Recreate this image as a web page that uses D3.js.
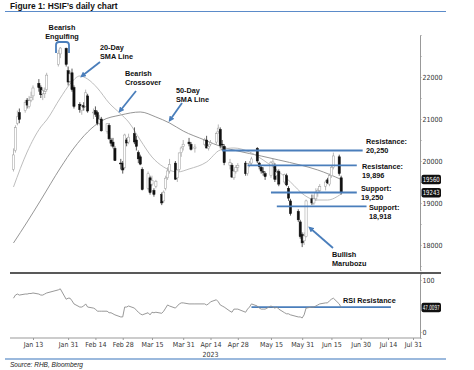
<!DOCTYPE html>
<html>
<head>
<meta charset="utf-8">
<script src="https://cdn.jsdelivr.net/npm/d3@7"></script>
<style>
  body { margin: 0; background: #fff; }
  svg { display: block; font-family: "Liberation Sans", Arial, sans-serif; }
  .ax text, text.ax { font-family: "Liberation Sans Narrow", "DejaVu Sans Condensed", sans-serif; font-size: 7px; fill: #333; }
  .note { font-weight: bold; font-size: 7.3px; fill: #111; }
</style>
</head>
<body>
<div id="chart"></div>
<script>
// ---- data ----
var dates = [
  "2023-01-03","2023-01-04","2023-01-05","2023-01-06","2023-01-09","2023-01-10","2023-01-11","2023-01-12","2023-01-13","2023-01-16","2023-01-17","2023-01-18","2023-01-19","2023-01-20","2023-01-26","2023-01-27","2023-01-30","2023-01-31",
  "2023-02-01","2023-02-02","2023-02-03","2023-02-06","2023-02-07","2023-02-08","2023-02-09","2023-02-10","2023-02-13","2023-02-14","2023-02-15","2023-02-16","2023-02-17","2023-02-20","2023-02-21","2023-02-22","2023-02-23","2023-02-24","2023-02-27","2023-02-28",
  "2023-03-01","2023-03-02","2023-03-03","2023-03-06","2023-03-07","2023-03-08","2023-03-09","2023-03-10","2023-03-13","2023-03-14","2023-03-15","2023-03-16","2023-03-17","2023-03-20","2023-03-21","2023-03-22","2023-03-23","2023-03-24","2023-03-27","2023-03-28","2023-03-29","2023-03-30","2023-03-31",
  "2023-04-03","2023-04-04","2023-04-06","2023-04-11","2023-04-12","2023-04-13","2023-04-14","2023-04-17","2023-04-18","2023-04-19","2023-04-20","2023-04-21","2023-04-24","2023-04-25","2023-04-26","2023-04-27","2023-04-28",
  "2023-05-02","2023-05-03","2023-05-04","2023-05-05","2023-05-08","2023-05-09","2023-05-10","2023-05-11","2023-05-12","2023-05-15","2023-05-16","2023-05-17","2023-05-18","2023-05-19","2023-05-22","2023-05-23","2023-05-24","2023-05-25","2023-05-29","2023-05-30","2023-05-31",
  "2023-06-01","2023-06-02","2023-06-05","2023-06-06","2023-06-07","2023-06-08","2023-06-09","2023-06-12","2023-06-13","2023-06-14","2023-06-15","2023-06-16","2023-06-19","2023-06-20"
]
var opens = [
  19800,20250,20900,21150,21200,21450,21300,21450,21550,21850,21750,21600,21600,21700,22300,22550,22680,22150,
  21900,22100,21750,21350,21200,21320,21300,21550,21150,21200,21150,20900,21000,20700,20850,20500,20450,20300,19950,19950,
  19850,20500,20450,20650,20500,20200,20100,19800,19350,19600,19450,19300,19400,19200,19050,19350,19600,19760,19950,19600,19800,20200,20350,
  20450,20400,20300,20400,20500,20300,20400,20450,20700,20750,20400,20350,19900,19900,19600,19750,19850,
  19950,19700,19900,19950,20300,19950,19850,19750,19700,19650,19950,19900,19650,19750,19500,19650,19350,19050,18800,18550,18250,
  18100,18200,19100,19000,19100,19250,19300,19400,19550,19450,19650,19850,20100,19600
]
var highs = [
  20300,20850,21200,21250,21450,21500,21550,21650,21800,21950,21800,21750,21750,22100,22650,22714,22700,22250,
  22150,22200,21800,21400,21350,21400,21700,21600,21250,21300,21200,21100,21050,20900,20900,20550,20550,20350,20050,20000,
  20650,20550,20650,20800,20600,20250,20150,19850,19750,19650,19650,19350,19550,19250,19300,19650,19850,20050,20000,19800,20200,20350,20500,
  20550,20450,20400,20550,20600,20400,20500,20700,20870,20800,20500,20400,20050,19950,19800,19900,19950,
  20000,19950,20000,20100,20330,19980,19900,19850,19750,20000,20050,19950,19800,19800,19700,19700,19400,19100,18850,18600,18300,
  18300,19080,19200,19200,19350,19350,19450,19550,19600,19700,19900,20200,20150,19650
]
var lows = [
  19750,20200,20850,20900,21150,21250,21250,21400,21450,21650,21500,21450,21500,21650,22250,22450,22250,21800,
  21850,21650,21250,21150,21100,21200,21280,21150,21000,21050,20850,20850,20700,20650,20500,20350,20300,20000,19800,19700,
  19800,20350,20400,20400,20250,19950,19900,19300,19300,19200,19400,19150,19350,18950,19000,19300,19550,19700,19550,19500,19750,20100,20250,
  20350,20250,20200,20350,20300,20250,20350,20400,20650,20300,20250,19900,19800,19600,19550,19700,19750,
  19650,19650,19850,19900,19950,19800,19700,19650,19550,19600,19900,19500,19550,19400,19450,19400,19050,18700,18550,18150,17950,
  18000,18180,18950,18950,19050,19150,19250,19300,19450,19400,19600,19800,19650,19200
]
var closes = [
  20145,20793,21052,20991,21388,21331,21436,21514,21738,21746,21578,21678,21651,22045,22566,22689,22300,21880,
  22072,21700,21300,21222,21298,21283,21624,21190,21164,21113,20900,20987,20719,20886,20529,20423,20351,20010,19943,19786,
  20619,20429,20567,20453,20350,20051,19926,19320,19696,19248,19539,19204,19518,19001,19259,19591,19763,19915,19567,19784,20192,20310,20400,
  20409,20275,20332,20486,20310,20345,20438,20650,20782,20367,20396,19959,19959,19617,19757,19841,19895,
  19699,19934,19948,20049,20000,19867,19762,19743,19628,19971,19978,19561,19727,19450,19678,19431,19116,18746,18600,18200,18050,
  18216,19050,19000,19099,19252,19299,19390,19500,19480,19650,19850,20120,19700,19243
]
var rsiValues = [
  65,71,73,71,73,73,74,74,75,73,71,71,73,75,81,83,63,65,
  65,60,54,48,48,50,54,48,46,44,40,40,40,40,37,37,35,33,29,29,
  48,48,50,46,42,38,35,33,37,33,38,37,38,36,40,46,52,50,46,50,54,56,56,
  54,54,54,54,52,54,58,62,58,52,50,48,40,38,44,44,44,
  38,44,48,54,50,46,44,44,44,50,48,46,48,44,37,35,35,33,29,29,27,
  33,46,48,48,50,52,54,56,56,60,63,65,54,47.0097
]

// moving averages, sampled along the drawn lines
var sma20Dates = ["2023-01-03","2023-01-10","2023-01-17","2023-01-20","2023-01-27","2023-02-01","2023-02-06","2023-02-10","2023-02-15","2023-02-21","2023-02-27","2023-03-03","2023-03-09","2023-03-15","2023-03-21","2023-03-28","2023-04-03","2023-04-12","2023-04-19","2023-04-26","2023-05-04","2023-05-11","2023-05-18","2023-05-25","2023-06-01","2023-06-07","2023-06-13","2023-06-20"]
var sma20Values = [19381,20214,20810,20976,21500,21833,22024,21952,21738,21381,21119,20929,20500,20095,19857,19738,19810,19976,20262,20310,20214,20024,19786,19500,19190,19071,19071,19214]
var sma50Dates = ["2023-01-03","2023-01-10","2023-01-17","2023-01-27","2023-02-03","2023-02-10","2023-02-17","2023-02-27","2023-03-09","2023-03-17","2023-03-24","2023-03-31","2023-04-11","2023-04-20","2023-04-28","2023-05-10","2023-05-19","2023-05-30","2023-06-08","2023-06-20"]
var sma50Values = [18048,18548,19071,19833,20310,20690,20952,21095,21167,21048,20905,20714,20500,20333,20238,20119,20024,19905,19786,19560]

// support / resistance levels
var levelValues = [20250, 19896, 19250, 18918]
var levelStart = ["2023-04-20","2023-05-03","2023-05-15","2023-05-18"]
var levelEnd = ["2023-07-01","2023-06-28","2023-06-28","2023-07-03"]
var levelLabels = [["Resistance:","20,250"],["Resistance:","19,896"],["Support:","19,250"],["Support:","18,918"]]
var rsiResistance = 48
var rsiResStart = "2023-05-05", rsiResEnd = "2023-07-16"

var priceTicks = [18000, 19000, 20000, 21000, 22000]
var tickDates = ["2023-01-13","2023-01-31","2023-02-14","2023-02-28","2023-03-15","2023-03-31","2023-04-14","2023-04-28","2023-05-15","2023-05-31","2023-06-15","2023-06-30","2023-07-14","2023-07-31"]
var lastTags = [19560, 19243]

// ---- chart ----
var parse = d3.timeParse("%Y-%m-%d")
var blue = "#4a7ebb"
var narrow = "'Liberation Sans Narrow','DejaVu Sans Condensed',sans-serif"

var svg = d3.select("#chart").append("svg")
  .attr("width", 474)
  .attr("height", 370)

svg.append("defs").append("marker")
  .attr("id", "head")
  .attr("viewBox", "0 0 10 10")
  .attr("refX", 6).attr("refY", 5)
  .attr("markerWidth", 3.2).attr("markerHeight", 3.2)
  .attr("orient", "auto")
  .append("path").attr("d", "M0,0L10,5L0,10z").attr("fill", blue)

var x = d3.scaleTime()
  .domain([parse("2023-01-13"), parse("2023-07-14"), parse("2023-07-31")])
  .range([33, 388, 413])

var y = d3.scaleLinear().domain([17400, 23000]).range([270.2, 35])
var yr = d3.scaleLinear().domain([-11.5, 111.5]).range([338, 274])

// title and frame lines
svg.append("text").attr("x", 10).attr("y", 9)
  .attr("font-size", 8.4).attr("font-weight", "bold").attr("fill", "#111")
  .text("Figure 1: HSIF\u2019s daily chart")
svg.append("line").attr("x1", 5).attr("x2", 446).attr("y1", 11.5).attr("y2", 11.5)
  .attr("stroke", "#5b8bc9").attr("stroke-width", 1)
svg.append("line").attr("x1", 10).attr("x2", 441).attr("y1", 273).attr("y2", 273)
  .attr("stroke", "#222").attr("stroke-width", 1.6)
svg.append("line").attr("x1", 5).attr("x2", 446).attr("y1", 359).attr("y2", 359)
  .attr("stroke", "#9bb9dd").attr("stroke-width", 2)
svg.append("text").attr("x", 10).attr("y", 366.5)
  .attr("font-size", 6.5).attr("font-style", "italic").attr("fill", "#222")
  .text("Source: RHB, Bloomberg")

// price axis (right)
var pAxis = svg.append("g").attr("class", "ax")
  .attr("transform", "translate(420,0)")
  .call(d3.axisRight(y).tickValues(priceTicks).tickSize(1.5).tickPadding(1).tickFormat(d3.format("d")))
pAxis.selectAll("line, path").attr("stroke", "#999")
svg.append("g").attr("transform", "translate(420,0)")
  .call(d3.axisRight(y).tickValues([17500, 18500, 19500, 20500, 21500, 22500]).tickSize(1.5).tickFormat(""))
  .call(g => g.select(".domain").remove())
  .selectAll("line").attr("stroke", "#999")

// moving averages
var line = d3.line().curve(d3.curveMonotoneX).x(d => x(d[0])).y(d => y(d[1]))
svg.append("path")
  .attr("d", line(sma50Dates.map((d, i) => [parse(d), sma50Values[i]])))
  .attr("fill", "none").attr("stroke", "#8a8a8a").attr("stroke-width", 0.9)
svg.append("path")
  .attr("d", line(sma20Dates.map((d, i) => [parse(d), sma20Values[i]])))
  .attr("fill", "none").attr("stroke", "#b5b5b5").attr("stroke-width", 0.9)

// candles
var candles = dates.map((d, i) => ({ date: parse(d), o: opens[i], h: highs[i], l: lows[i], c: closes[i], rsi: rsiValues[i] }))
var cg = svg.append("g")
cg.selectAll("line").data(candles).enter().append("line")
  .attr("x1", d => x(d.date)).attr("x2", d => x(d.date))
  .attr("y1", d => y(d.h)).attr("y2", d => y(d.l))
  .attr("stroke", d => d.c < d.o ? "#111" : "#9a9a9a").attr("stroke-width", 0.7)
cg.selectAll("rect").data(candles).enter().append("rect")
  .attr("x", d => x(d.date) - 1.1).attr("width", 2.2)
  .attr("y", d => y(Math.max(d.o, d.c)))
  .attr("height", d => Math.max(0.8, Math.abs(y(d.o) - y(d.c))))
  .attr("fill", d => d.c < d.o ? "#111" : "#fff")
  .attr("stroke", d => d.c < d.o ? "#111" : "#9a9a9a").attr("stroke-width", 0.5)

// support / resistance
levelValues.forEach(function(v, i) {
  svg.append("line")
    .attr("x1", x(parse(levelStart[i]))).attr("x2", x(parse(levelEnd[i])))
    .attr("y1", y(v)).attr("y2", y(v))
    .attr("stroke", blue).attr("stroke-width", 1.8)
})
var labelSpots = [[366, 141], [362, 166], [361, 188], [369, 207]]
levelLabels.forEach(function(lines, i) {
  var t = svg.append("text").attr("class", "note")
  lines.forEach(function(s, k) {
    t.append("tspan").attr("x", labelSpots[i][0]).attr("y", labelSpots[i][1] + k * 9 + 2.6).text(s)
  })
})

// value tags on the axis
function tag(yPos, label) {
  svg.append("rect").attr("x", 421.5).attr("y", yPos - 4.7).attr("width", 19.5).attr("height", 9.4)
    .attr("rx", 2).attr("fill", "#111")
  svg.append("text").attr("x", 431.2).attr("y", yPos + 2.4)
    .attr("text-anchor", "middle").attr("font-size", 7).attr("font-family", narrow)
    .attr("textLength", 17).attr("lengthAdjust", "spacingAndGlyphs")
    .attr("fill", "#fff").text(label)
}
lastTags.forEach(v => tag(y(v), v))

// notes and arrows
var notes = [
  { lines: ["Bearish", "Engulfing"], x: 62, y: 27, anchor: "middle" },
  { lines: ["20-Day", "SMA Line"], x: 100, y: 47, anchor: "start" },
  { lines: ["Bearish", "Crossover"], x: 125, y: 73, anchor: "start" },
  { lines: ["50-Day", "SMA Line"], x: 176, y: 90, anchor: "start" },
  { lines: ["Bullish", "Marubozu"], x: 332, y: 254, anchor: "start" },
  { lines: ["RSI Resistance"], x: 343, y: 300, anchor: "start" }
]
notes.forEach(function(n) {
  var t = svg.append("text").attr("class", "note").attr("text-anchor", n.anchor)
  n.lines.forEach(function(s, k) {
    t.append("tspan").attr("x", n.x).attr("y", n.y + k * 9 + 2.6).text(s)
  })
})
var arrows = [[100, 62, 82, 76], [136, 91, 120, 111], [182, 103, 170, 120], [333, 248, 310, 228]]
arrows.forEach(function(a) {
  svg.append("line").attr("x1", a[0]).attr("y1", a[1]).attr("x2", a[2]).attr("y2", a[3])
    .attr("stroke", blue).attr("stroke-width", 1.8).attr("marker-end", "url(#head)")
})
svg.append("path")
  .attr("d", "M56,53 L56,45 Q56,42 59,42 L66,42 Q69,42 69,45 L69,53")
  .attr("fill", "none").attr("stroke", blue).attr("stroke-width", 1.8)

// RSI panel
var rAxis = svg.append("g").attr("class", "ax")
  .attr("transform", "translate(420,0)")
  .call(d3.axisRight(yr).tickValues([0, 100]).tickSize(1.5).tickPadding(1))
rAxis.selectAll("line, path").attr("stroke", "#999")

svg.append("line")
  .attr("x1", x(parse(rsiResStart))).attr("x2", x(parse(rsiResEnd)))
  .attr("y1", yr(rsiResistance)).attr("y2", yr(rsiResistance))
  .attr("stroke", blue).attr("stroke-width", 1.8)

svg.append("path")
  .attr("d", d3.line().x(d => x(d.date)).y(d => yr(d.rsi))(candles))
  .attr("fill", "none").attr("stroke", "#8c8c8c").attr("stroke-width", 0.9)

var lastRsi = rsiValues[rsiValues.length - 1]
tag(yr(lastRsi), lastRsi)

// time axis
var xAxis = svg.append("g").attr("class", "ax")
  .attr("transform", "translate(0,338)")
  .call(d3.axisBottom(x).tickValues(tickDates.map(parse)).tickSize(2).tickPadding(2).tickFormat(d3.timeFormat("%b %-d")))
xAxis.select(".domain").remove()
xAxis.selectAll("line").attr("stroke", "#999")
svg.append("line").attr("x1", 10).attr("x2", 420).attr("y1", 338).attr("y2", 338)
  .attr("stroke", "#999").attr("stroke-width", 1)
svg.append("text").attr("x", x(parse("2023-04-14"))).attr("y", 357)
  .attr("text-anchor", "middle").attr("font-size", 7).attr("font-family", narrow).attr("fill", "#333")
  .text("2023")
</script>
</body>
</html>
